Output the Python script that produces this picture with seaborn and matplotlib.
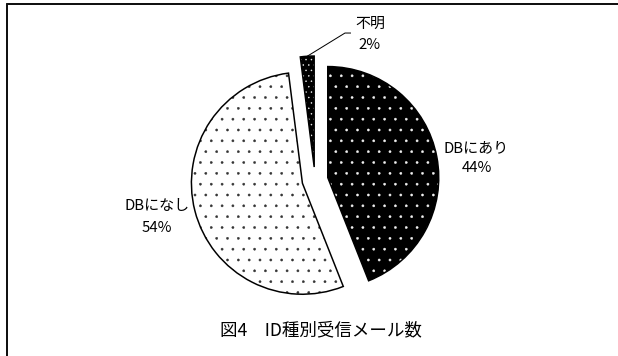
import matplotlib
matplotlib.use("Agg")
import matplotlib.pyplot as plt
from matplotlib.lines import Line2D
import numpy as np
import seaborn as sns

# Received mail counted by ID kind
categories = ["DBにあり", "DBになし", "不明"]
shares = [44, 54, 2]
title_text = "図4　ID種別受信メール数"

sns.set_theme(style="white")
plt.rcParams["font.family"] = ["Noto Sans CJK JP", "DejaVu Sans"]
plt.rcParams["hatch.linewidth"] = 0.25

W, H, DPI = 618, 356, 130
PX = 72 / DPI  # points per pixel
fig = plt.figure(figsize=(W / DPI, H / DPI), dpi=DPI, facecolor="white")
ax = fig.add_axes([0, 0, 1, 1])

# fill colour, dot colour and dot density per slice
fills = ["black", "white", "black"]
dot_colors = ["#f2f2f2", "#333333", "#f2f2f2"]
hatches = ["..", "..", "...."]
explode = [0.117, 0.117, 0.117]

# dotted fills
wedges, _ = ax.pie(shares, startangle=90, counterclock=False,
                   explode=explode, radius=1.0, colors=fills)
for w, dc, h in zip(wedges, dot_colors, hatches):
    w.set_hatch(h)
    w.set_edgecolor(dc)
    w.set_linewidth(0)

# solid black outlines on top
outlines, _ = ax.pie(shares, startangle=90, counterclock=False,
                     explode=explode, radius=1.0,
                     wedgeprops=dict(fill=False, edgecolor="black",
                                     linewidth=1.5 * PX))

# one data unit = one pie radius = 111 px; pie centre sits at (315, 180) px
R, CX, CY = 111.0, 315.0, 180.0
ax.set_xlim(-CX / R, (W - CX) / R)
ax.set_ylim(-(H - CY) / R, CY / R)
ax.set_aspect("equal")
ax.axis("off")

label_fs = 15 * PX
name_pos = [(1.447, 0.288), (-1.423, -0.234), (0.495, 1.405)]
pct_pos = [(1.456, 0.108), (-1.423, -0.432), (0.495, 1.216)]
for name, val, p1, p2 in zip(categories, shares, name_pos, pct_pos):
    ax.text(*p1, name, ha="center", va="center", fontsize=label_fs, color="black")
    ax.text(*p2, f"{val}%", ha="center", va="center", fontsize=label_fs, color="black")

# leader line from the small slice to its label
small = wedges[2]
mid = np.deg2rad(0.5 * (small.theta1 + small.theta2))
cx, cy = small.center
tip = (cx + small.r * np.cos(mid), cy + small.r * np.sin(mid))
ax.plot([0.324, 0.27, tip[0]], [1.324, 1.324, tip[1]], color="black",
        lw=1.0 * PX, solid_capstyle="butt")

ax.text(0.054, -1.351, title_text, ha="center", va="center",
        fontsize=17.5 * PX, color="black")

# outer frame (left and top edges)
lx, ty = 7 / W, 1 - 3.5 / H
fig.add_artist(Line2D([lx, lx], [0, ty], transform=fig.transFigure,
                      color="#111111", lw=2 * PX))
fig.add_artist(Line2D([lx, 1], [ty, ty], transform=fig.transFigure,
                      color="#111111", lw=2 * PX))

fig.savefig("out.png", dpi=DPI, facecolor="white")
